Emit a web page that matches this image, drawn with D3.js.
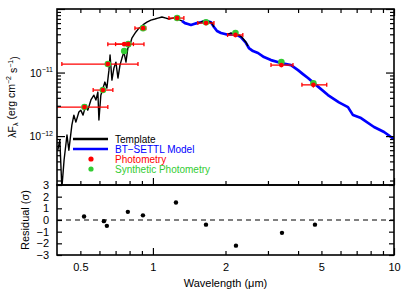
<!DOCTYPE html>
<html>
<head>
<meta charset="utf-8">
<script src="https://cdn.jsdelivr.net/npm/d3@7"></script>
<style>
  body{margin:0;background:#fff;}
  svg{display:block;font-family:"Liberation Sans",Arial,sans-serif;}
</style>
</head>
<body>
<div id="chart"></div>
<script>
// template spectrum, optical part (micron, erg/cm2/s)
var templateWave = [0.403,0.411,0.419,0.428,0.440,0.448,0.461,0.470,0.479,0.493,0.502,0.513,0.527,0.537,0.553,0.569,0.580,0.591,0.597,0.608,0.621,0.632,0.644,0.657,0.664,0.676,0.689,0.702,0.716,0.730,0.744,0.758,0.773,0.787,0.803,0.818,0.834,0.850,0.875,0.892,0.918,0.944,0.981,1.019,1.049,1.090,1.132,1.165,1.210,1.258,1.294,1.319];
var templateFlux = [6.0e-13,8.6e-13,1.52e-13,4.2e-13,1.04e-12,6.0e-13,1.49e-12,2.14e-12,1.66e-12,2.39e-12,2.56e-12,2.14e-12,3.1e-12,2.56e-12,3.7e-12,4.4e-12,3.7e-12,4.93e-12,1.79e-12,4.4e-12,5.7e-12,7.08e-12,5.7e-12,1.09e-11,1.89e-11,7.6e-12,1.18e-11,1.46e-11,8.2e-12,1.31e-11,1.69e-11,2.1e-11,1.46e-11,2.43e-11,2.71e-11,3.49e-11,3.9e-11,4.35e-11,5.0e-11,5.2e-11,5.8e-11,6.2e-11,6.7e-11,6.96e-11,7.2e-11,7.48e-11,7.2e-11,6.96e-11,7.2e-11,7.2e-11,6.7e-11,6.5e-11];
// template, H and K pieces (null = gap)
var templateNirWave = [1.535,1.581,1.628,1.675,1.724,1.758,1.791,null,2.047,2.107,2.188,2.274,2.339,2.432,2.478];
var templateNirFlux = [6.0e-11,6.2e-11,6.5e-11,6.5e-11,6.2e-11,6.0e-11,5.2e-11,null,4.0e-11,4.2e-11,4.0e-11,3.9e-11,3.6e-11,3.0e-11,2.61e-11];
// BT-SETTL model
var modelWave = [1.319,1.358,1.397,1.438,1.480,1.522,1.581,1.660,1.741,1.791,1.844,1.915,2.009,2.107,2.210,2.317,2.432,2.501,2.600,2.728,2.888,3.088,3.398,3.738,3.998,4.19,4.398,4.746,5.322,5.911,6.442,6.760,7.298,8.262,9.095,10.0];
var modelFlux = [6.5e-11,6.0e-11,5.8e-11,5.6e-11,5.8e-11,6.0e-11,6.2e-11,6.5e-11,6.2e-11,5.2e-11,4.5e-11,4.2e-11,4.0e-11,4.0e-11,4.0e-11,3.6e-11,2.92e-11,2.43e-11,2.18e-11,2.03e-11,1.75e-11,1.57e-11,1.41e-11,1.31e-11,1.09e-11,9.46e-12,8.2e-12,6.4e-12,4.43e-12,3.4e-12,2.86e-12,2.14e-12,1.92e-12,1.39e-12,1.16e-12,8.97e-13];
// photometry
var photWave = [0.52,0.62,0.65,0.76,0.79,0.91,1.26,1.66,2.20,3.41,4.63];
var photFlux = [2.86e-12,5.3e-12,1.36e-11,2.8e-11,2.8e-11,5.0e-11,7.2e-11,6.0e-11,3.9e-11,1.31e-11,6.4e-12];
var photFluxErr = [1.5e-13,2.5e-13,6e-13,1.5e-12,1.4e-12,2.5e-12,3e-12,2.5e-12,1.6e-12,6e-13,6e-13];
var photWaveLo = [0.38,0.565,0.419,0.70,0.65,0.842,1.165,1.535,2.04,3.088,4.15];
var photWaveHi = [0.650,0.682,0.867,0.83,0.918,0.935,1.344,1.791,2.36,3.81,5.26];
var synthFlux = [2.86e-12,5.3e-12,1.36e-11,2.18e-11,2.8e-11,5.0e-11,7.2e-11,6.2e-11,4.2e-11,1.46e-11,6.8e-12];
// residuals
var residWave = [0.518,0.626,0.644,0.787,0.909,1.246,1.66,2.21,3.43,4.70];
var residVal = [0.3,-0.1,-0.5,0.7,0.4,1.5,-0.4,-2.2,-1.1,-0.4];

var xMajor = [1,10];
var xMinor = [0.5,0.6,0.7,0.8,0.9,2,3,4,5,6,7,8,9];
var xLabels = [0.5,1,2,5,10];
var yMajor = [1e-12,1e-11,1e-10];
var yMinor = [2e-13,3e-13,4e-13,5e-13,6e-13,7e-13,8e-13,9e-13,2e-12,3e-12,4e-12,5e-12,6e-12,7e-12,8e-12,9e-12,2e-11,3e-11,4e-11,5e-11,6e-11,7e-11,8e-11,9e-11];
var yLabels = [[1e-11,"\u221211"],[1e-12,"\u221212"]];
var residTicks = [-3,-2,-1,0,1,2,3];
var legendItems = [
  {label:"Template",type:"line",color:"#000"},
  {label:"BT\u2212SETTL Model",type:"line",color:"#0000ff"},
  {label:"Photometry",type:"dot",color:"#ff0000"},
  {label:"Synthetic Photometry",type:"dot",color:"#33cc33"}
];

var W = 407, H = 291;
var L = 57, R = 394, T = 9, M = 185, B = 255;
var red = "#ff0000", green = "#33cc33", blue = "#0000ff";

var svg = d3.select("#chart").append("svg").attr("width",W).attr("height",H);

var x = d3.scaleLog().domain([0.4,10]).range([L,R]);
var y = d3.scaleLog().domain([1.7e-13,1e-10]).range([M,T]);
var yr = d3.scaleLinear().domain([-3,3]).range([B,M]);

svg.append("clipPath").attr("id","clipTop").append("rect")
  .attr("x",L).attr("y",T).attr("width",R-L).attr("height",M-T);

var plot = svg.append("g").attr("clip-path","url(#clipTop)");

function zipPts(ws,fs){
  return ws.map(function(w,i){return [w,fs[i]];});
}
var line = d3.line()
  .defined(function(d){return d[0]!=null && d[1]!=null;})
  .x(function(d){return x(d[0]);})
  .y(function(d){return y(d[1]);});

plot.append("path").datum(zipPts(modelWave,modelFlux))
  .attr("d",line).attr("fill","none").attr("stroke",blue).attr("stroke-width",2.7)
  .attr("stroke-linejoin","round");
plot.append("path").datum(zipPts(templateWave,templateFlux))
  .attr("d",line).attr("fill","none").attr("stroke","#000").attr("stroke-width",1.4)
  .attr("stroke-linejoin","round");
plot.append("path").datum(zipPts(templateNirWave,templateNirFlux))
  .attr("d",line).attr("fill","none").attr("stroke","#000").attr("stroke-width",1.4)
  .attr("stroke-linejoin","round");

// photometry error bars
var bars = plot.append("g").attr("stroke",red).attr("stroke-width",1.3);
photWave.forEach(function(w,i){
  var yy = y(photFlux[i]);
  bars.append("line").attr("x1",x(photWaveLo[i])).attr("x2",x(photWaveHi[i])).attr("y1",yy).attr("y2",yy);
  [photWaveLo[i],photWaveHi[i]].forEach(function(e){
    bars.append("line").attr("x1",x(e)).attr("x2",x(e)).attr("y1",yy-2).attr("y2",yy+2);
  });
  bars.append("line").attr("x1",x(w)).attr("x2",x(w))
    .attr("y1",y(photFlux[i]+photFluxErr[i])).attr("y2",y(photFlux[i]-photFluxErr[i]));
});
plot.append("g").selectAll("circle").data(photWave).enter().append("circle")
  .attr("cx",function(d){return x(d);})
  .attr("cy",function(d,i){return y(synthFlux[i]);})
  .attr("r",3.3).attr("fill",green);
plot.append("g").selectAll("circle").data(photWave).enter().append("circle")
  .attr("cx",function(d){return x(d);})
  .attr("cy",function(d,i){return y(photFlux[i]);})
  .attr("r",2.4).attr("fill",red);

// legend
var lg = svg.append("g");
legendItems.forEach(function(d,i){
  var ly = 139+i*10;
  if(d.type=="line"){
    lg.append("line").attr("x1",73).attr("x2",108).attr("y1",ly).attr("y2",ly)
      .attr("stroke",d.color).attr("stroke-width",2.4);
  }else{
    lg.append("circle").attr("cx",91).attr("cy",ly).attr("r",2.6).attr("fill",d.color);
  }
  lg.append("text").text(d.label).attr("x",115).attr("y",ly)
    .attr("dominant-baseline","central").attr("font-size","10px").attr("fill",d.color);
});

// residual panel
svg.append("line").attr("x1",L).attr("x2",R).attr("y1",yr(0)).attr("y2",yr(0))
  .attr("stroke","#000").attr("stroke-width",1).attr("stroke-dasharray","5,4");
svg.append("g").selectAll("circle").data(residWave).enter().append("circle")
  .attr("cx",function(d){return x(d);})
  .attr("cy",function(d,i){return yr(residVal[i]);})
  .attr("r",2.2).attr("fill","#000");

// axes
function styleAxis(g){
  g.select(".domain").remove();
  g.selectAll(".tick line").attr("stroke","#000").attr("stroke-width",1.2);
  g.selectAll(".tick text").attr("fill","#000").attr("font-family","\"Liberation Sans\",Arial,sans-serif");
}
function xTicks(axisFn,yPos,vals,len){
  svg.append("g").attr("transform","translate(0,"+yPos+")")
    .call(axisFn(x).tickValues(vals).tickSize(-len).tickFormat(""))
    .call(styleAxis);
}
xTicks(d3.axisTop,T,xMajor,7);
xTicks(d3.axisTop,T,xMinor,4);
xTicks(d3.axisBottom,M,xMajor,7);
xTicks(d3.axisBottom,M,xMinor,4);
xTicks(d3.axisBottom,B,xMajor,7);
xTicks(d3.axisBottom,B,xMinor,4);

svg.append("g").attr("transform","translate(0,"+B+")")
  .call(d3.axisBottom(x).tickValues(xLabels).tickSize(0).tickPadding(8).tickFormat(d3.format("~g")))
  .call(styleAxis)
  .selectAll("text").attr("font-size","11px");

function yTicks(axisFn,xPos,vals,len){
  svg.append("g").attr("transform","translate("+xPos+",0)")
    .call(axisFn(y).tickValues(vals).tickSize(-len).tickFormat(""))
    .call(styleAxis);
}
yTicks(d3.axisLeft,L,yMajor,8);
yTicks(d3.axisLeft,L,yMinor,4);
yTicks(d3.axisRight,R,yMajor,8);
yTicks(d3.axisRight,R,yMinor,4);

yLabels.forEach(function(d){
  var t = svg.append("text").attr("x",53).attr("y",y(d[0])).attr("text-anchor","end")
    .attr("dominant-baseline","central").attr("font-size","10.5px");
  t.append("tspan").text("10");
  t.append("tspan").text(d[1]).attr("font-size","7px").attr("dy","-0.5em");
});

svg.append("g").attr("transform","translate("+L+",0)")
  .call(d3.axisLeft(yr).tickValues(residTicks).tickSize(-5).tickPadding(8).tickFormat(d3.format("d")))
  .call(styleAxis)
  .selectAll("text").attr("font-size","11px");
svg.append("g").attr("transform","translate("+R+",0)")
  .call(d3.axisRight(yr).tickValues(residTicks).tickSize(-5).tickFormat(""))
  .call(styleAxis);

// frames
svg.append("rect").attr("x",L).attr("y",T).attr("width",R-L).attr("height",M-T)
  .attr("fill","none").attr("stroke","#000").attr("stroke-width",1.6);
svg.append("rect").attr("x",L).attr("y",M).attr("width",R-L).attr("height",B-M)
  .attr("fill","none").attr("stroke","#000").attr("stroke-width",1.6);

// axis titles
var yt = svg.append("text").attr("transform","translate(16,"+((T+M)/2)+") rotate(-90)")
  .attr("text-anchor","middle").attr("font-size","10.5px");
yt.append("tspan").text("\u03bbF");
yt.append("tspan").text("\u03bb").attr("font-size","7px").attr("dy","0.35em");
yt.append("tspan").text(" (erg cm").attr("dy","-0.35em");
yt.append("tspan").text("\u22122").attr("font-size","7px").attr("dy","-0.5em");
yt.append("tspan").text(" s").attr("dy","0.5em");
yt.append("tspan").text("\u22121").attr("font-size","7px").attr("dy","-0.5em");
yt.append("tspan").text(")").attr("dy","0.5em");

svg.append("text").text("Residual (\u03c3)")
  .attr("transform","translate(29,"+((M+B)/2)+") rotate(-90)")
  .attr("text-anchor","middle").attr("font-size","11px");

svg.append("text").text("Wavelength (\u03bcm)").attr("x",(L+R)/2).attr("y",287)
  .attr("text-anchor","middle").attr("font-size","11px");
</script>
</body>
</html>
